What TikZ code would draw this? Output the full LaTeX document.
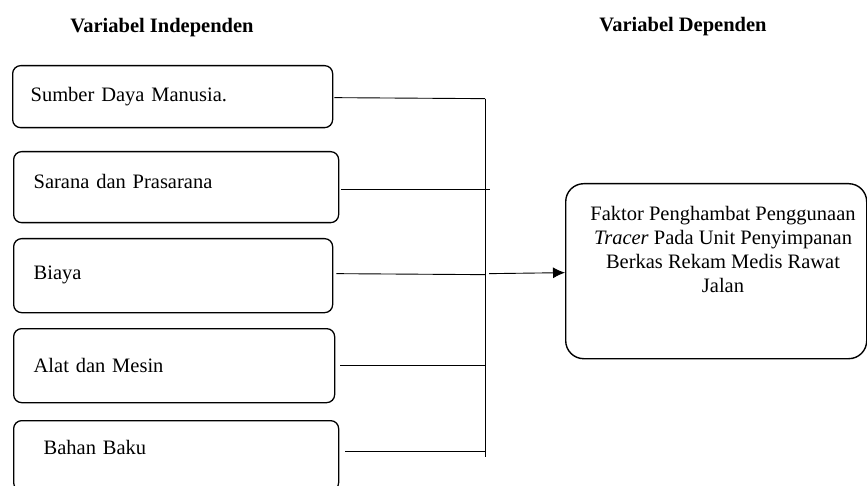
\documentclass[tikz,border=0pt]{standalone}
\usepackage{fontspec}
\setmainfont{Liberation Serif}
\usetikzlibrary{positioning}
\usetikzlibrary{calc}
\usetikzlibrary{arrows}
\usetikzlibrary{arrows.meta}
\newcommand{\diagfont}{\fontsize{20.5}{24}\selectfont}
\tikzset{>={Latex[length=12pt,width=11pt]}}
\tikzset{header/.style={font=\diagfont\bfseries, inner sep=0pt}}
\tikzset{varbox/.style={rectangle, draw, rounded corners=8pt, line width=1.3pt, inner ysep=0pt, align=left, anchor=north west}}
\tikzset{depbox/.style={rectangle, draw, rounded corners=18pt, line width=1.4pt, minimum width=301pt, minimum height=175pt, anchor=north west}}
\tikzset{deptext/.style={align=center, inner sep=0pt, anchor=north}}
\tikzset{link/.style={line width=0.9pt}}

\begin{document}
\begin{tikzpicture}[x=1pt, y=-1pt, font=\diagfont]
    \useasboundingbox (0,0) rectangle (867,486);

    % ------- Headers ------- %
    \node [header] (hIndep) at (162,28) {Variabel Independen};
    \node [header] (hDep) at (683,27) {Variabel Dependen};

    % ------- Independent variables ------- %
    \node [varbox, text width=284pt, inner xsep=18pt, minimum height=62pt] (var1) at (12,65) {Sumber Daya Manusia.};
    \node [varbox, text width=285pt, inner xsep=20pt, minimum height=71pt, text depth=12pt] (var2) at (13,151) {Sarana dan Prasarana};
    \node [varbox, text width=279pt, inner xsep=20pt, minimum height=74pt, text depth=6pt] (var3) at (13,238) {Biaya};
    \node [varbox, text width=281pt, inner xsep=20pt, minimum height=74pt] (var4) at (13,328) {Alat dan Mesin};
    \node [varbox, text width=265pt, inner xsep=30pt, minimum height=70pt, text depth=17pt] (var5) at (13,420) {Bahan Baku};

    % ------- Dependent variable ------- %
    \node [depbox] (dep) at (565,183) {};
    \node [deptext] (depText) at (723,206) {Faktor Penghambat Penggunaan\\
        \textit{Tracer} Pada Unit Penyimpanan\\
        Berkas Rekam Medis Rawat\\
        Jalan};

    % The vertical line collecting the variables.
    \coordinate (busTop) at (485,99);
    \coordinate (busBot) at (485,457);
    \draw [link] (busTop) -- (busBot);

    % Lines from each variable to the vertical line.
    \draw [link] ($(var1.east)+(1,1)$) -- ($(var1.east -| busTop)+(0,2)$);
    \draw [link] ($(var2.east)+(2,2)$) -- ($(var2.east -| busTop)+(5,2)$);
    \draw [link] ($(var3.east)+(3,-2)$) -- ($(var3.east -| busTop)+(0,-1)$);
    \draw [link] ($(var4.east)+(5,0)$) -- (var4.east -| busTop);
    \draw [link] ($(var5.east)+(6,-4)$) -- ($(var5.east -| busTop)+(0,-4)$);

    % The arrow to the dependent variable.
    \draw [->, link] ($(var3.east -| busTop)+(4,-2)$) -- ($(dep.west |- var3.east)+(0,-3)$);
\end{tikzpicture}
\end{document}
